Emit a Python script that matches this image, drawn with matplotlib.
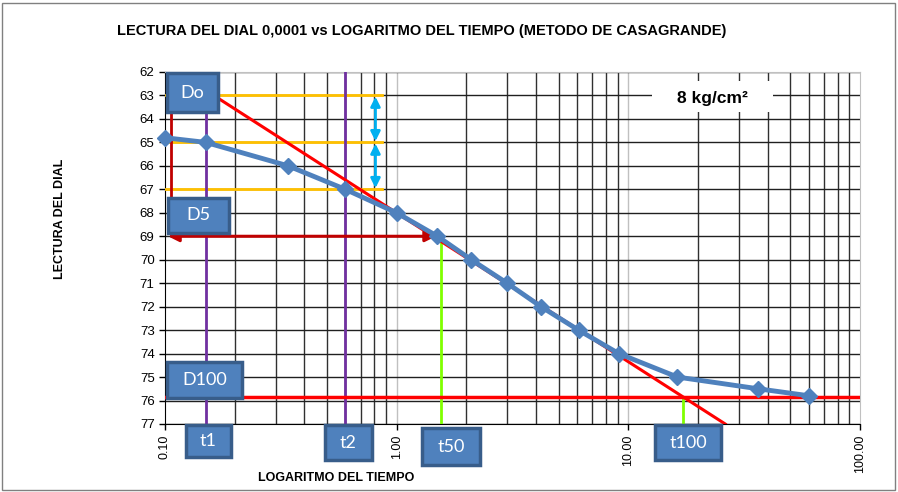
import numpy as np
import matplotlib
matplotlib.use("Agg")
import matplotlib.pyplot as plt
from matplotlib.patches import Rectangle

# dial readings vs time
tiempo = [0.10, 0.15, 0.34, 0.60, 1.00, 1.50, 2.10, 3.00, 4.20, 6.10, 9.10, 16.3, 36.4, 60.5]
lectura = [64.8, 65.0, 66.0, 67.0, 68.0, 69.0, 70.0, 71.0, 72.0, 73.0, 74.0, 75.0, 75.5, 75.8]

# construction values
D0 = 63.0
D5 = 67.0
D100 = 75.85
D50 = 69.0
t1 = 0.15
t2 = 0.60
t50 = 1.56
t100 = 17.3
tang_t = [0.113, 26.2]
tang_d = [62.0, 77.0]
orange_d = [63.0, 65.0, 67.0]
x_ticks = [0.1, 1.0, 10.0, 100.0]
x_ticklabels = ["0.10", "1.00", "10.00", "100.00"]
y_ticks = list(range(62, 78))

plt.rcParams['font.family'] = ['Liberation Sans', 'DejaVu Sans']
fig = plt.figure(figsize=(8.98, 4.92), dpi=100)
ax = fig.add_axes([165/898, 1-424/492, (860-165)/898, (424-72)/492])

ax.set_xscale('log')
ax.set_xlim(0.1, 100)
ax.set_ylim(77, 62)

# grid
for dec in [0.1, 1, 10]:
    for k in range(2, 10):
        ax.axvline(dec*k, color='#303030', lw=1.0, zorder=1)
for v in [1, 10]:
    ax.axvline(v, color='#c0c0c0', lw=1.0, zorder=1)
for v in y_ticks:
    ax.axhline(v, color='#202020', lw=1.0, zorder=1)

# construction lines
ax.plot(tang_t, tang_d, color='#ff0000', lw=2.2, zorder=4, clip_on=True)
ax.axhline(D100, color='#ff0000', lw=2.5, zorder=4)
for d in orange_d:
    ax.plot([0.1, 0.865], [d, d], color='#ffc000', lw=2, zorder=3)
ax.axvline(t1, color='#7030a0', lw=2, zorder=3)
ax.axvline(t2, color='#7030a0', lw=2, zorder=3)
ax.plot([t50, t50], [D50, 77], color='#80ff00', lw=2, zorder=3)
ax.plot([t100, t100], [D100, 77], color='#80ff00', lw=2, zorder=3)
ax.plot([0.106, 0.106], [63.1, 68.9], color='#c00000', lw=2, zorder=5)
ax.annotate('', xy=(0.103, 69.0), xytext=(1.48, 69.0),
            arrowprops=dict(arrowstyle='<|-|>', color='#c00000', lw=2.2,
                            mutation_scale=16, shrinkA=0, shrinkB=0), zorder=5)
for a, b in [(63.05, 64.95), (65.05, 66.95)]:
    ax.annotate('', xy=(0.81, a), xytext=(0.81, b),
                arrowprops=dict(arrowstyle='<|-|>', color='#00b0f0', lw=2,
                                mutation_scale=14, shrinkA=0, shrinkB=0), zorder=5)

# data
ax.plot(tiempo, lectura, color='#4f81bd', lw=3.5, marker='D', markersize=8,
        zorder=6, clip_on=False)

ax.set_xticks(x_ticks)
ax.set_xticklabels(x_ticklabels, rotation=90, fontsize=9)
ax.xaxis.set_minor_locator(matplotlib.ticker.NullLocator())
ax.set_yticks(y_ticks)
ax.set_yticklabels([str(v) for v in y_ticks], fontsize=9.5)
ax.tick_params(axis='both', length=4, width=1, color='black')
for s in ['top', 'right']:
    ax.spines[s].set_color('#c0c0c0')
for s in ['left', 'bottom']:
    ax.spines[s].set_color('black')

# pressure label on white patch
fig.add_artist(Rectangle((652/898, 1-112/492), 121/898, 31/492, transform=fig.transFigure,
                         fc='white', ec='none', zorder=7))
fig.text(712/898, 1-98/492, '8 kg/cm\u00b2', ha='center', va='center',
         fontsize=12.5, fontweight='bold', zorder=8)

fig.text(422/898, 1-31/492, 'LECTURA DEL DIAL 0,0001 vs LOGARITMO DEL TIEMPO (METODO DE CASAGRANDE)',
         ha='center', va='center', fontsize=10.5, fontweight='bold')
fig.text(60/898, 1-219/492, 'LECTURA DEL DIAL', rotation=90, ha='center', va='center',
         fontsize=9, fontweight='bold')
fig.text(336/898, 1-478/492, 'LOGARITMO DEL TIEMPO', ha='center', va='center',
         fontsize=9, fontweight='bold')

# label boxes (pixel layout: x0, y0 top, x1, y1 bottom)
boxes = [('Do', 167, 73, 218, 112), ('D5', 168, 198, 229, 233), ('D100', 167, 362, 242, 398),
         ('t1', 186, 425, 231, 457), ('t2', 325, 425, 372, 460),
         ('t50', 422, 428, 480, 465), ('t100', 655, 425, 721, 460)]
for lab, x0, y0, x1, y1 in boxes:
    r = Rectangle((x0/898, 1-y1/492), (x1-x0)/898, (y1-y0)/492, transform=fig.transFigure,
                  fc='#4f81bd', ec='#385d8a', lw=2.5, zorder=10)
    fig.add_artist(r)
    fig.text((x0+x1)/2/898, 1-(y0+y1)/2/492, lab, ha='center', va='center', color='white',
             fontsize=13, family=['Lato', 'DejaVu Sans'], zorder=11)

fig.add_artist(Rectangle((2/898, 2/492), 893/898, 487/492, transform=fig.transFigure,
                         fill=False, ec='#808080', lw=1))

fig.savefig('out.png', dpi=100)
